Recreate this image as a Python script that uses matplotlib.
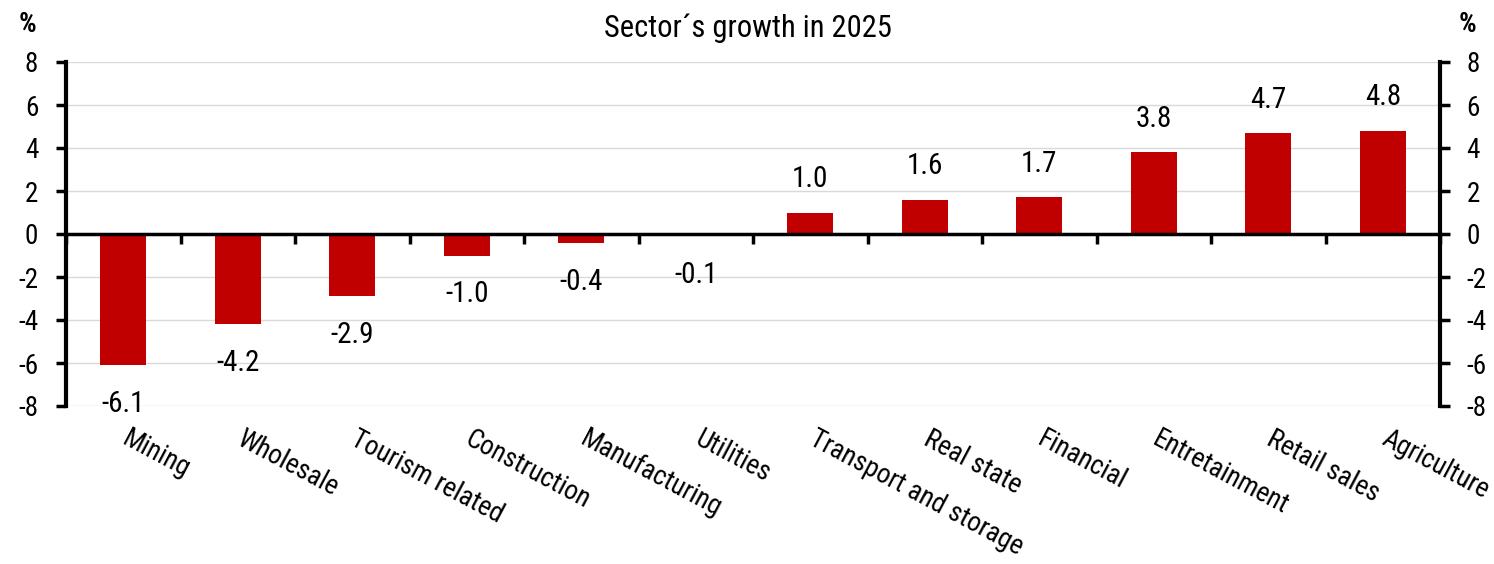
import numpy as np
import matplotlib
matplotlib.use("Agg")
import matplotlib.pyplot as plt
from matplotlib import font_manager

sectors = ["Mining", "Wholesale", "Tourism related", "Construction", "Manufacturing",
           "Utilities", "Transport and storage", "Real state", "Financial",
           "Entretainment", "Retail sales", "Agriculture"]
growth = [-6.1, -4.2, -2.9, -1.0, -0.4, -0.1, 1.0, 1.6, 1.7, 3.8, 4.7, 4.8]
y_ticks = [-8, -6, -4, -2, 0, 2, 4, 6, 8]

# prefer a condensed sans if one is around
names = {f.name for f in font_manager.fontManager.ttflist}
family = "Liberation Sans"
for cand in ["Liberation Sans Narrow", "Arial Narrow", "Roboto Condensed", "Open Sans Condensed"]:
    if cand in names:
        family = cand
        break
plt.rcParams["font.family"] = [family, "DejaVu Sans"]

RED = "#C00000"

fig = plt.figure(figsize=(14.94, 5.64), dpi=100)
ax = fig.add_axes([66 / 1494, 1 - 406 / 564, (1440 - 66) / 1494, 344 / 564])

x = np.arange(len(sectors))
ax.bar(x, growth, width=0.4, color=RED, zorder=3)

ax.set_xlim(-0.5, len(sectors) - 0.5)
ax.set_ylim(-8, 8)
ax.set_yticks(y_ticks)
ax.set_yticklabels([str(v) for v in y_ticks])
ax.grid(axis="y", color="#d9d9d9", linewidth=1.0, zorder=0)

# zero line carries the category separator ticks
ax.spines["top"].set_visible(False)
ax.spines["right"].set_visible(False)
ax.spines["bottom"].set_position(("data", 0))
ax.spines["bottom"].set_linewidth(2.5)
ax.spines["bottom"].set_zorder(4)
ax.spines["left"].set_linewidth(3)
ax.set_xticks(np.arange(-0.5, len(sectors), 1.0))
ax.set_xticklabels([])
ax.tick_params(axis="x", direction="out", length=7, width=2.5, color="black")
ax.tick_params(axis="y", direction="out", length=7, width=2.5, labelsize=19.5, pad=13)

ax2 = ax.twinx()
ax2.set_ylim(-8, 8)
ax2.set_yticks(y_ticks)
ax2.set_yticklabels([str(v) for v in y_ticks])
for side in ["top", "bottom", "left"]:
    ax2.spines[side].set_visible(False)
ax2.spines["right"].set_linewidth(3)
ax2.tick_params(axis="y", direction="out", length=7, width=2.5, labelsize=19.5, pad=12)

# value labels
for xi, v in zip(x, growth):
    if v >= 0:
        ax.annotate(f"{v:.1f}", (xi, v), xytext=(0, 14), textcoords="offset points",
                    ha="center", va="bottom", fontsize=21)
    else:
        ax.annotate(f"{v:.1f}", (xi, v), xytext=(0, -18), textcoords="offset points",
                    ha="center", va="top", fontsize=21)

# rotated category labels below the plot
for xi, name in zip(x, sectors):
    ax.annotate(name, (xi, 0), xycoords=("data", "axes fraction"),
                xytext=(5, -14), textcoords="offset points",
                ha="left", va="top", rotation=-28, rotation_mode="anchor", fontsize=19.5)

fig.text(748 / 1494, 1 - 28 / 564, "Sector\u00b4s growth in 2025", ha="center", va="center", fontsize=22)
fig.text(28 / 1494, 1 - 25 / 564, "%", ha="center", va="center", fontsize=20, fontweight="bold")
fig.text(1468 / 1494, 1 - 25 / 564, "%", ha="center", va="center", fontsize=20, fontweight="bold")

fig.savefig("out.png", dpi=100)
